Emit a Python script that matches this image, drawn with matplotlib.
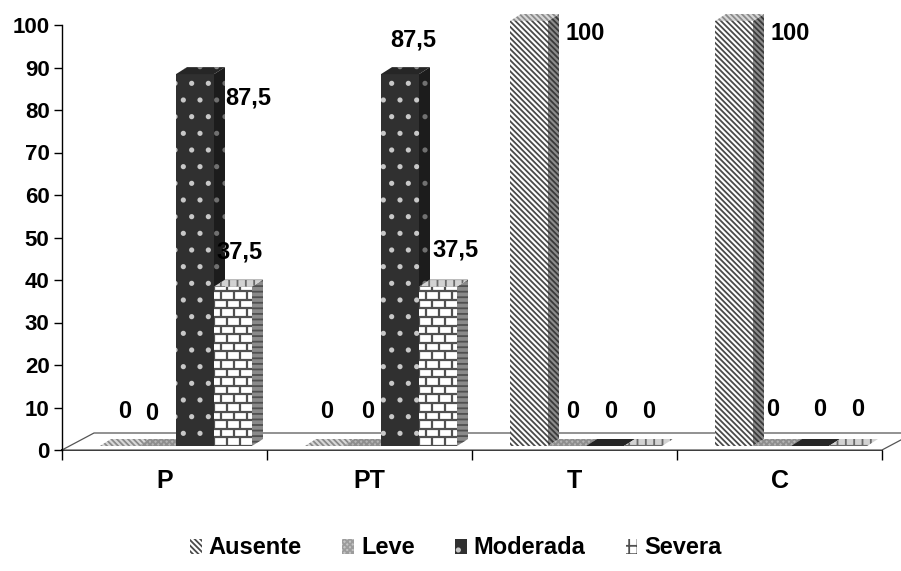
import numpy as np
import matplotlib
matplotlib.use('Agg')
import matplotlib.pyplot as plt
from matplotlib.patches import Polygon, Patch
from matplotlib.collections import LineCollection

# data
groups = ['P', 'PT', 'T', 'C']
series = ['Ausente', 'Leve', 'Moderada', 'Severa']
ausente = [0, 0, 100, 100]
leve = [0, 0, 0, 0]
moderada = [87.5, 87.5, 0, 0]
severa = [37.5, 37.5, 0, 0]
values = [ausente, leve, moderada, severa]

plt.rcParams['font.family'] = ['Liberation Sans', 'DejaVu Sans']
plt.rcParams['font.weight'] = 'bold'
plt.rcParams['hatch.linewidth'] = 1.3

W, H = 901, 571
fig = plt.figure(figsize=(W / 100, H / 100), dpi=100)
# axes box in pixels: x 62..882, y(0)=450 .. y(100)=25
ax = fig.add_axes([62 / W, (H - 450) / H, 820 / W, 425 / H])
ax.set_xlim(0, len(groups))
ax.set_ylim(0, 100)

PX = len(groups) / 820.0   # data units per pixel (x)
PY = 100 / 425.0           # data units per pixel (y)

# face styles: (front, side, top) -> (facecolor, hatchcolor, hatch)
BS = '\\' * 6
styles = {
    'Ausente':  [('white', '#4a4a4a', BS), ('#8c8c8c', '#3a3a3a', BS), ('#d8d8d8', '#8a8a8a', BS)],
    'Leve':     [('#c4c4c4', '#9c9c9c', 'xxxxxx'), ('#8e8e8e', '#707070', 'xxxxxx'), ('#b4b4b4', '#8e8e8e', 'xxxxxx')],
    'Moderada': [('#303030', '#c8c8c8', '.'), ('#1c1c1c', '#707070', '.'), ('#262626', '#8a8a8a', '.')],
    'Severa':   [('white', '#505050', None), ('#8a8a8a', '#505050', '---'), ('#d2d2d2', '#6a6a6a', '++')],
}

def face(pts, st, z):
    fc, hc, hatch = st
    p = Polygon(pts, closed=True, facecolor=fc, edgecolor=hc, hatch=hatch,
                linewidth=0, zorder=z, clip_on=False)
    ax.add_patch(p)
    return p

def bricks(x0, y0, w, h, clip, z):
    # brick pattern in pixel steps, converted to data units
    segs = []
    row_h, brick_w = 8.6, 13.0
    nrows = int(np.ceil(h / PY / row_h))
    for r in range(nrows + 1):
        yy = y0 + r * row_h * PY
        segs.append([(x0, yy), (x0 + w, yy)])
        shift = 0 if r % 2 == 0 else brick_w / 2
        xx = shift
        while xx < w / PX:
            segs.append([(x0 + xx * PX, yy), (x0 + xx * PX, yy + row_h * PY)])
            xx += brick_w
    lc = LineCollection(segs, colors='#505050', linewidths=1.6, zorder=z, clip_on=True)
    ax.add_collection(lc)
    lc.set_clip_path(clip)

# 3D floor
dx_f, dy_f = 32 * PX, 17 * PY
floor = Polygon([(0, 0), (len(groups), 0), (len(groups) + dx_f, dy_f), (dx_f, dy_f)],
                closed=True, facecolor='white', edgecolor='#555555', linewidth=0.9,
                zorder=1, clip_on=False)
ax.add_patch(floor)

bw = 38 * PX           # bar width
ddx, ddy = 11 * PX, 7 * PY   # bar depth
yb = 4 * PY            # bar base (front face) above floor front

# label offsets in pixels (dx, dy from the top front centre of each bar)
default_off = (6, 35)
special_off = {(0, 2): (53, -24), (2, 0): (56, -12), (3, 0): (56, -12),
               (1, 0): (3, 34), (1, 2): (13, 34), (1, 3): (17, 37),
               (0, 1): (-5, 33), (3, 1): (1, 37), (3, 2): (10, 37), (3, 3): (10, 36)}

z = 2
for g in range(len(groups)):
    for k, name in enumerate(series):
        v = values[k][g]
        x0 = g + (38 + 38 * k) * PX
        y1 = yb + v
        fr, sd, tp = styles[name]
        if v > 0:
            front = face([(x0, yb), (x0 + bw, yb), (x0 + bw, y1), (x0, y1)], fr, z)
            if name == 'Severa':
                bricks(x0, yb, bw, v, front, z + 0.5)
            face([(x0 + bw, yb), (x0 + bw + ddx, yb + ddy), (x0 + bw + ddx, y1 + ddy), (x0 + bw, y1)], sd, z)
        face([(x0, y1), (x0 + bw, y1), (x0 + bw + ddx, y1 + ddy), (x0 + ddx, y1 + ddy)], tp, z)
        z += 1

        # value label
        ox, oy = special_off.get((g, k), default_off)
        txt = ('%g' % v).replace('.', ',')
        ax.text(x0 + bw / 2 + ox * PX, y1 + oy * PY, txt, ha='center', va='center',
                fontsize=17, fontweight='bold', zorder=100, clip_on=False)

# axes
for s in ['top', 'right']:
    ax.spines[s].set_visible(False)
ax.spines['left'].set_linewidth(1.0)
ax.spines['bottom'].set_linewidth(1.3)
ax.spines['bottom'].set_zorder(0.5)
ax.set_yticks(np.arange(0, 101, 10))
ax.tick_params(axis='y', direction='out', length=6, width=1, pad=3, labelsize=16)
ax.set_xticks(np.arange(0, len(groups) + 1))
ax.set_xticklabels([])
ax.set_xticks(np.arange(len(groups)) + 0.5, minor=True)
ax.set_xticklabels(groups, minor=True, fontsize=18, fontweight='bold')
ax.tick_params(axis='x', which='major', direction='out', length=7, width=1)
ax.tick_params(axis='x', which='minor', length=0, pad=14)
for t in ax.get_yticklabels():
    t.set_fontweight('bold')

# legend
handles = []
for name in series:
    fc, hc, hatch = styles[name][0]
    if name == 'Severa':
        hatch = '++'
    handles.append(Patch(facecolor=fc, edgecolor=hc, hatch=hatch, linewidth=0, label=name))
fig.legend(handles=handles, loc='center', bbox_to_anchor=(0.506, 1 - 548 / H), ncol=4,
           frameon=False, handlelength=0.5, handleheight=0.6, handletextpad=0.3,
           columnspacing=1.7, prop={'size': 17, 'weight': 'bold'})

fig.savefig('out.png', dpi=100)
